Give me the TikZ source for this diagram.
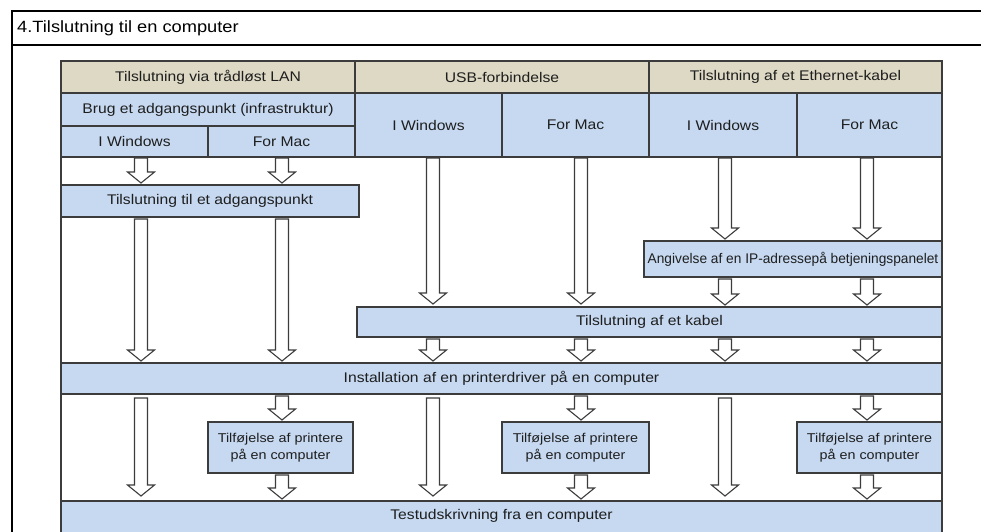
\documentclass[tikz,border=0pt]{standalone}
\usepackage{fontspec}
\setmainfont[FakeStretch=1.12]{Liberation Sans}
\usetikzlibrary{calc}
\definecolor{tan}{HTML}{DDD9C4}
\definecolor{lblue}{HTML}{C6D9F1}
\definecolor{edge}{HTML}{3C3C3C}
\definecolor{txt}{HTML}{1E1E1E}
\tikzset{
  box/.style={draw=edge, line width=1.2pt, inner sep=0pt, outer sep=0pt, align=center, text=txt, font=\fontsize{14}{16}\selectfont},
  tanbox/.style={box, fill=tan},
  bluebox/.style={box, fill=lblue},
  arr/.style={draw=edge, fill=white, line width=1.1pt, line join=miter},
  frame/.style={draw=black, line width=2pt}
}
\newcommand\bx[7]{\node[#2, minimum width={#5-#3}, minimum height={#6-#4}] (#1) at ({(#3+#5)/2},{(#4+#6)/2}) {#7};}
\newcommand\barr[2]{%
  \draw[arr] let \p1=#1, \p2=#2 in
    (\x1-6.5pt,\y1) -- (\x1-6.5pt,\y2+11pt) -- (\x1-13.5pt,\y2+11pt) -- (\x1,\y2)
    -- (\x1+13.5pt,\y2+11pt) -- (\x1+6.5pt,\y2+11pt) -- (\x1+6.5pt,\y1) -- cycle;}
\newcommand\conn[3]{\barr{($(#1 |- #2.south)+(0,2)$)}{($(#1 |- #3.north)+(0,-2)$)}}
\begin{document}
\begin{tikzpicture}[x=1pt,y=-1pt]
\useasboundingbox (0,0) rectangle (981,531);
\begin{scope}
\clip (0,0) rectangle (981,531);
\fill[white] (0,0) rectangle (981,531);
% outer frame
\draw[frame] (12,545) -- (12,11) -- (995,11);
\draw[frame] (12,45) -- (995,45);
\node[anchor=west, text=black, font=\fontsize{16.3}{18}\selectfont, inner sep=0pt] (title) at (17,28.5) {4.Tilslutning til en computer};
% table
\bx{table}{box, fill=white}{61}{61}{942}{545}{}
% column x positions
\coordinate (c1) at (141,0);
\coordinate (c2) at (282,0);
\coordinate (c3) at (433,0);
\coordinate (c4) at (581,0);
\coordinate (c5) at (725,0);
\coordinate (c6) at (867,0);
% headers
\bx{hW}{tanbox}{61}{61}{355}{93}{Tilslutning via trådløst LAN}
\bx{hU}{tanbox}{355}{61}{649}{93}{USB-forbindelse}
\bx{hE}{tanbox}{649}{61}{942}{93}{Tilslutning af et Ethernet-kabel}
\bx{bAP}{bluebox}{61}{93}{355}{126}{Brug et adgangspunkt (infrastruktur)}
\bx{wWin}{bluebox}{61}{126}{208}{157}{I Windows}
\bx{wMac}{bluebox}{208}{126}{355}{157}{For Mac}
\bx{uWin}{bluebox}{355}{93}{502}{157}{I Windows}
\bx{uMac}{bluebox}{502}{93}{649}{157}{For Mac}
\bx{eWin}{bluebox}{649}{93}{797}{157}{I Windows}
\bx{eMac}{bluebox}{797}{93}{942}{157}{For Mac}
% flow boxes
\bx{ap}{bluebox}{61}{185}{359}{217}{Tilslutning til et adgangspunkt}
\bx{ip}{bluebox}{644}{241}{942}{277}{\scalebox{0.875}[1]{Angivelse af en IP-adressepå betjeningspanelet}}
\bx{kab}{bluebox}{357}{307}{942}{337}{Tilslutning af et kabel}
\bx{inst}{bluebox}{61}{363}{942}{394}{Installation af en printerdriver på en computer}
\bx{add1}{bluebox, font=\fontsize{12.8}{17}\selectfont}{208}{422}{353}{473}{Tilføjelse af printere\\på en computer}
\bx{add2}{bluebox, font=\fontsize{12.8}{17}\selectfont}{502}{422}{649}{473}{Tilføjelse af printere\\på en computer}
\bx{add3}{bluebox, font=\fontsize{12.8}{17}\selectfont}{797}{422}{942}{473}{Tilføjelse af printere\\på en computer}
\bx{test}{bluebox}{61}{501}{942}{545}{}
\node[text=txt, font=\fontsize{14}{16}\selectfont] (testlbl) at (501.5,516) {Testudskrivning fra en computer};
% arrows
\barr{($(c1 |- wWin.south)+(0,1)$)}{($(c1 |- ap.north)+(0,-2)$)}
\barr{($(c2 |- wMac.south)+(0,1)$)}{($(c2 |- ap.north)+(0,-2)$)}
\conn{c1}{ap}{inst}
\conn{c2}{ap}{inst}
\barr{($(c3 |- uWin.south)+(0,1)$)}{($(c3 |- kab.north)+(0,-3)$)}
\barr{($(c4 |- uMac.south)+(0,1)$)}{($(c4 |- kab.north)+(0,-3)$)}
\barr{($(c5 |- eWin.south)+(0,1)$)}{($(c5 |- ip.north)+(0,-2)$)}
\barr{($(c6 |- eMac.south)+(0,1)$)}{($(c6 |- ip.north)+(0,-2)$)}
\conn{c5}{ip}{kab}
\conn{c6}{ip}{kab}
\conn{c3}{kab}{inst}
\conn{c4}{kab}{inst}
\conn{c5}{kab}{inst}
\conn{c6}{kab}{inst}
\barr{($(c1 |- inst.south)+(0,4)$)}{($(c1 |- test.north)+(0,-5)$)}
\barr{($(c3 |- inst.south)+(0,4)$)}{($(c3 |- test.north)+(0,-5)$)}
\barr{($(c5 |- inst.south)+(0,4)$)}{($(c5 |- test.north)+(0,-5)$)}
\conn{c2}{inst}{add1}
\conn{c4}{inst}{add2}
\conn{c6}{inst}{add3}
\conn{c2}{add1}{test}
\conn{c4}{add2}{test}
\conn{c6}{add3}{test}
\end{scope}
\end{tikzpicture}
\end{document}
